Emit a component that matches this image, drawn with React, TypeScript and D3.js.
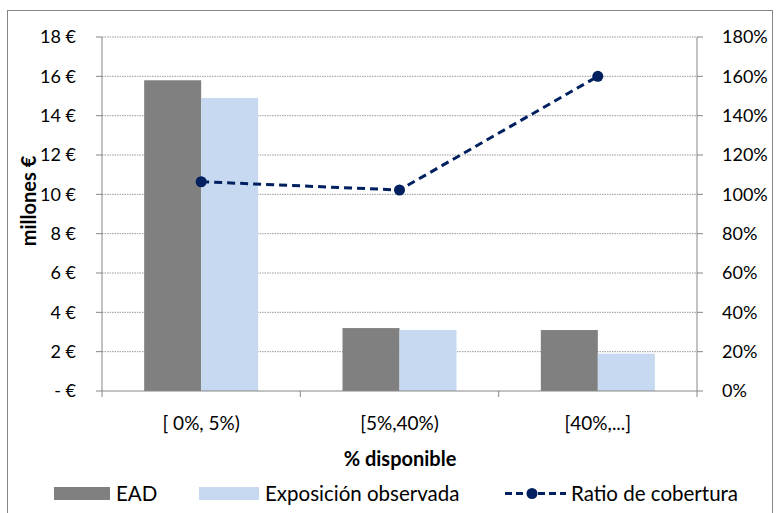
import React from "react";
import * as d3 from "d3";

const categories = ["[ 0%, 5%)", "[5%,40%)", "[40%,...]"];
const ead = [15.8, 3.2, 3.1];
const expObs = [14.9, 3.1, 1.9];
const ratio = [1.064, 1.022, 1.6];
const leftTicks = [0, 2, 4, 6, 8, 10, 12, 14, 16, 18];
const rightTicks = [0, 0.2, 0.4, 0.6, 0.8, 1.0, 1.2, 1.4, 1.6, 1.8];

const W = 776, H = 513;
const L = 102, R = 697, T = 37, B = 391;
const FONT = "Lato, 'Open Sans', sans-serif";

export default function App() {
  const x = d3.scaleBand().domain(categories).range([L, R]).paddingInner(0).paddingOuter(0);
  const yL = d3.scaleLinear().domain([0, 18]).range([B, T]);
  const yR = d3.scaleLinear().domain([0, 1.8]).range([B, T]);
  const bw = 57;
  const cx = (i: number) => x(categories[i])! + x.bandwidth() / 2;
  const line = d3.line<number>().x((_, i) => cx(i)).y((d) => yR(d));
  return (
    <svg width={W} height={H} style={{ position: "absolute", left: 0, top: 0, background: "#fff" }} fontFamily={FONT}>
      <rect x={7.5} y={10.5} width={765} height={520} fill="#fff" stroke="#868686" strokeWidth={1} />
      {leftTicks.slice(1).map((t) => (
        <line key={"g" + t} x1={L} x2={R} y1={yL(t)} y2={yL(t)} stroke="#9a9a9a" strokeWidth={1} strokeDasharray="1.5,1" />
      ))}
      {categories.map((c, i) => (
        <g key={c}>
          <rect x={cx(i) - bw} y={yL(ead[i])} width={bw} height={B - yL(ead[i])} fill="#808080" />
          <rect x={cx(i)} y={yL(expObs[i])} width={bw} height={B - yL(expObs[i])} fill="#C6D9F0" />
        </g>
      ))}
      <line x1={L} x2={L} y1={T} y2={B} stroke="#868686" />
      <line x1={R} x2={R} y1={T} y2={B} stroke="#868686" />
      <line x1={L} x2={R} y1={B} y2={B} stroke="#868686" />
      {leftTicks.map((t) => (
        <g key={"l" + t}>
          <line x1={L - 6} x2={L} y1={yL(t)} y2={yL(t)} stroke="#868686" />
          <text x={76} y={yL(t)} dy="0.35em" textAnchor="end" fontSize={18} fill="#000">
            {t === 0 ? "-    €" : `${t} €`}
          </text>
        </g>
      ))}
      {rightTicks.map((t) => (
        <g key={"r" + t}>
          <line x1={R} x2={R + 6} y1={yR(t)} y2={yR(t)} stroke="#868686" />
          <text x={722} y={yR(t)} dy="0.35em" textAnchor="start" fontSize={18} fill="#000">
            {`${Math.round(t * 100)}%`}
          </text>
        </g>
      ))}
      {[0, 1, 2, 3].map((i) => (
        <line key={"xt" + i} x1={L + i * x.step()} x2={L + i * x.step()} y1={B} y2={B + 6} stroke="#868686" />
      ))}
      {categories.map((c, i) => (
        <text key={"xl" + c} x={cx(i)} y={423} dy="0.35em" textAnchor="middle" fontSize={19}>
          {c}
        </text>
      ))}
      <path d={line(ratio)!} fill="none" stroke="#002060" strokeWidth={3} strokeDasharray="8,5" />
      {ratio.map((r, i) => (
        <circle key={"p" + i} cx={cx(i)} cy={yR(r)} r={5.5} fill="#002060" />
      ))}
      <text x={400} y={459} dy="0.35em" textAnchor="middle" fontSize={20} fontWeight="bold">% disponible</text>
      <text transform={`translate(29,${201}) rotate(-90)`} textAnchor="middle" dy="0.35em" fontSize={20} fontWeight="bold">millones €</text>
      <rect x={54} y={487} width={56} height={13} fill="#808080" />
      <text x={116} y={493.5} dy="0.35em" fontSize={20.5}>EAD</text>
      <rect x={199} y={487} width={60} height={13} fill="#C6D9F0" />
      <text x={265} y={493.5} dy="0.35em" fontSize={20.5}>Exposición observada</text>
      <line x1={505} x2={566} y1={493.5} y2={493.5} stroke="#002060" strokeWidth={3} strokeDasharray="7,4" />
      <circle cx={532} cy={493.5} r={5.5} fill="#002060" />
      <text x={571} y={493.5} dy="0.35em" fontSize={20.5}>Ratio de cobertura</text>
    </svg>
  );
}
